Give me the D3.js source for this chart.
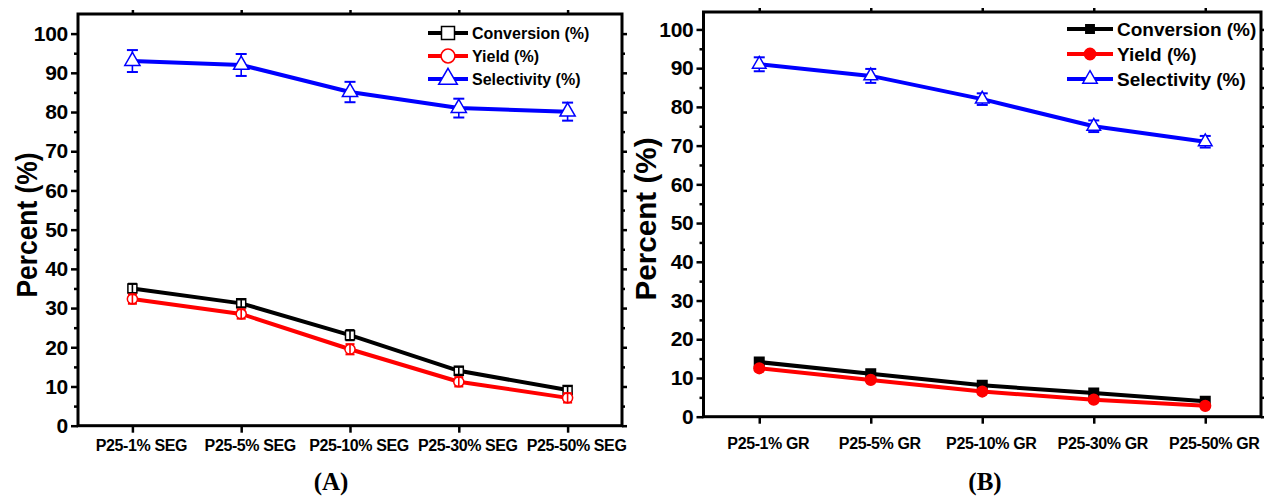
<!DOCTYPE html>
<html>
<head>
<meta charset="utf-8">
<script src="https://cdn.jsdelivr.net/npm/d3@7"></script>
<style>
  body { margin: 0; background: #fff; }
  svg { display: block; font-family: "Liberation Sans", Arial, sans-serif; font-weight: bold; }
</style>
</head>
<body>
<div id="chart"></div>
<script>
// ---- data ----
var catsA = ["P25-1% SEG", "P25-5% SEG", "P25-10% SEG", "P25-30% SEG", "P25-50% SEG"];
var catsB = ["P25-1% GR", "P25-5% GR", "P25-10% GR", "P25-30% GR", "P25-50% GR"];

var convA = [35.0, 31.2, 23.1, 14.0, 9.1];
var yieldA = [32.3, 28.5, 19.5, 11.2, 7.1];
var selA = [93.0, 92.0, 85.1, 81.0, 80.1];
var convErrA = [1.2, 1.0, 1.3, 1.0, 1.0];
var yieldErrA = [1.2, 1.2, 1.3, 1.2, 1.2];
var selErrA = [2.8, 2.8, 2.6, 2.4, 2.3];

var convB = [14.1, 11.1, 8.1, 6.1, 4.0];
var yieldB = [12.5, 9.5, 6.5, 4.4, 2.8];
var selB = [91.0, 88.0, 82.0, 75.0, 71.0];
var convErrB = [0.8, 0.7, 0.7, 0.7, 0.7];
var yieldErrB = [0.8, 0.7, 0.7, 0.7, 0.7];
var selErrB = [1.8, 1.8, 1.5, 1.5, 1.5];

var seriesNames = ["Conversion (%)", "Yield (%)", "Selectivity (%)"];
var yMajor = [0, 10, 20, 30, 40, 50, 60, 70, 80, 90, 100];
var yMinor = [5, 15, 25, 35, 45, 55, 65, 75, 85, 95];
var panelLabels = ["(A)", "(B)"];

var colors = ["#000000", "#ff0000", "#0000ff"];
var shapes = [d3.symbolSquare, d3.symbolCircle, d3.symbolTriangle];

var svg = d3.select("#chart").append("svg")
  .attr("width", 1264).attr("height", 497);

// panel layout
var panels = [
  { cats: catsA, vals: [convA, yieldA, selA], errs: [convErrA, yieldErrA, selErrA],
    x0: 78, x1: 622, yBot: 425.7, yTop: 14, yMax: 105,
    filled: [false, false, false], mSize: [81, 80, 100], lSize: [169, 150, 150],
    legX: 448, legY: [33, 56, 79], legFont: 16, legHalf: 20,
    yLab: { x: 26, y: 225, len: 145 }, tag: { x: 331, y: 490 }, xLabY: 451 },
  { cats: catsB, vals: [convB, yieldB, selB], errs: [convErrB, yieldErrB, selErrB],
    x0: 703.5, x1: 1261, yBot: 416.7, yTop: 12, yMax: 104.5,
    filled: [true, true, false], mSize: [90, 90, 80], lSize: [70, 100, 90],
    legX: 1090, legY: [29, 54, 79], legFont: 19, legHalf: 23,
    yLab: { x: 645, y: 219, len: 163 }, tag: { x: 985, y: 490 }, xLabY: 449 }
];

panels.forEach(function(p, pi) {
  var g = svg.append("g");

  var x = d3.scalePoint().domain(p.cats).range([p.x0, p.x1]).padding(0.5);
  var y = d3.scaleLinear().domain([0, p.yMax]).range([p.yBot, p.yTop]);

  // axes: major + minor ticks on left/right, category ticks bottom/top
  var left = g.append("g").attr("transform", "translate(" + p.x0 + ",0)");
  left.call(d3.axisLeft(y).tickValues(yMajor).tickSize(7).tickPadding(3));
  left.append("g").call(d3.axisLeft(y).tickValues(yMinor).tickSize(4).tickFormat(""));
  left.selectAll("text").attr("font-size", 21).attr("font-weight", "bold")
    .attr("letter-spacing", -0.3)
    .attr("fill", "#000").attr("font-family", "Liberation Sans, Arial, sans-serif");

  var right = g.append("g").attr("transform", "translate(" + p.x1 + ",0)");
  right.call(d3.axisRight(y).tickValues(yMajor).tickSize(5).tickFormat(""));
  right.append("g").call(d3.axisRight(y).tickValues(yMinor).tickSize(3).tickFormat(""));

  var bottom = g.append("g").attr("transform", "translate(0," + p.yBot + ")");
  bottom.call(d3.axisBottom(x).tickSize(7).tickFormat(""));

  var top = g.append("g").attr("transform", "translate(0," + p.yTop + ")");
  top.call(d3.axisTop(x).tickSize(4).tickFormat(""));

  g.selectAll(".domain").remove();
  g.selectAll(".tick line").attr("stroke", "#000").attr("stroke-width", 2.5);

  // frame
  g.append("rect")
    .attr("x", p.x0).attr("y", p.yTop)
    .attr("width", p.x1 - p.x0).attr("height", p.yBot - p.yTop)
    .attr("fill", "none").attr("stroke", "#000").attr("stroke-width", 3);

  // category labels (sit a little right of their ticks)
  g.selectAll(".xlab").data(p.cats).enter().append("text")
    .attr("class", "xlab")
    .attr("x", function(d) { return x(d) + 9; })
    .attr("y", p.xLabY)
    .attr("text-anchor", "middle")
    .attr("font-size", 16)
    .attr("letter-spacing", -0.4)
    .text(function(d) { return d; });

  // y title
  g.append("text")
    .attr("transform", "translate(" + p.yLab.x + "," + p.yLab.y + ") rotate(-90)")
    .attr("text-anchor", "middle")
    .attr("dy", "0.36em")
    .attr("font-size", 30)
    .attr("textLength", p.yLab.len)
    .attr("lengthAdjust", "spacingAndGlyphs")
    .text("Percent (%)");

  // series: line, markers, error bars
  [2, 0, 1].forEach(function(si) {
    var vals = p.vals[si], errs = p.errs[si], col = colors[si];
    var line = d3.line()
      .x(function(d, i) { return x(p.cats[i]); })
      .y(function(d) { return y(d); });

    g.append("path").datum(vals)
      .attr("d", line)
      .attr("fill", "none").attr("stroke", col).attr("stroke-width", 4)
      .attr("stroke-linejoin", "round");

    var pts = vals.map(function(v, i) { return { c: p.cats[i], v: v, e: errs[i] }; });
    var capW = si === 2 ? 5.5 : 4.5;

    function drawErr(sel) {
      var eg = sel.selectAll(".err" + si).data(pts).enter().append("g");
      eg.append("line")
        .attr("x1", function(d) { return x(d.c); }).attr("x2", function(d) { return x(d.c); })
        .attr("y1", function(d) { return y(d.v + d.e); }).attr("y2", function(d) { return y(d.v - d.e); })
        .attr("stroke", col).attr("stroke-width", 1.6);
      [1, -1].forEach(function(sgn) {
        eg.append("line")
          .attr("x1", function(d) { return x(d.c) - capW; }).attr("x2", function(d) { return x(d.c) + capW; })
          .attr("y1", function(d) { return y(d.v + sgn * d.e); }).attr("y2", function(d) { return y(d.v + sgn * d.e); })
          .attr("stroke", col).attr("stroke-width", 2);
      });
    }

    if (si === 2) drawErr(g);

    g.selectAll(".mk" + si).data(pts).enter().append("path")
      .attr("transform", function(d) { return "translate(" + x(d.c) + "," + y(d.v) + ")"; })
      .attr("d", d3.symbol().type(shapes[si]).size(p.mSize[si]))
      .attr("fill", p.filled[si] ? col : "#fff")
      .attr("stroke", col).attr("stroke-width", 1.5);

    if (si !== 2) drawErr(g);
  });

  // legend
  seriesNames.forEach(function(name, si) {
    var ly = p.legY[si];
    g.append("line")
      .attr("x1", p.legX - p.legHalf).attr("x2", p.legX + p.legHalf)
      .attr("y1", ly).attr("y2", ly)
      .attr("stroke", colors[si]).attr("stroke-width", 4);
    g.append("path")
      .attr("transform", "translate(" + p.legX + "," + ly + ")")
      .attr("d", d3.symbol().type(shapes[si]).size(p.lSize[si]))
      .attr("fill", p.filled[si] ? colors[si] : "#fff")
      .attr("stroke", colors[si]).attr("stroke-width", 1.5);
    g.append("text")
      .attr("x", p.legX + p.legHalf + 4).attr("y", ly)
      .attr("dy", "0.36em")
      .attr("font-size", p.legFont)
      .text(name);
  });

  // panel tag
  g.append("text")
    .attr("x", p.tag.x).attr("y", p.tag.y)
    .attr("text-anchor", "middle")
    .attr("font-family", "Liberation Serif, 'Times New Roman', serif")
    .attr("font-size", 25)
    .text(panelLabels[pi]);
});
</script>
</body>
</html>
